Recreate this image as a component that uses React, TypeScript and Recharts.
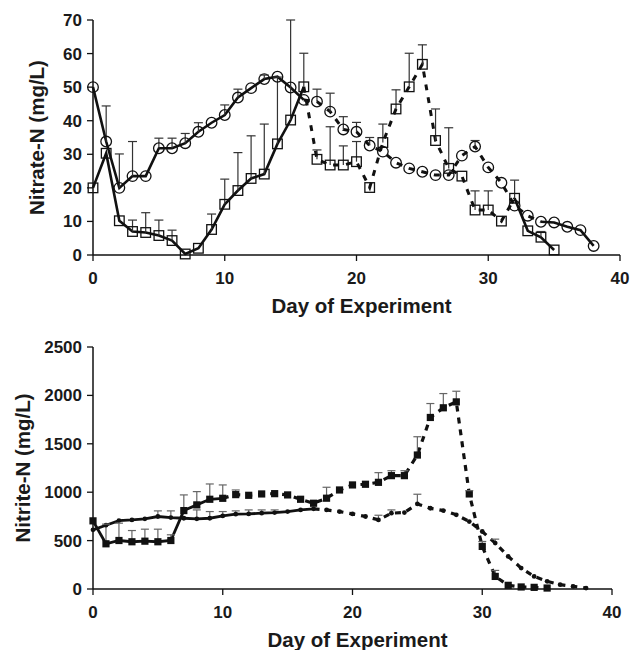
import React from 'react';
import { LineChart, Line, XAxis, YAxis, ErrorBar, Label } from 'recharts';

const FONT = '"Liberation Sans", Arial, Helvetica, sans-serif';
const INK = '#111';

const days = [0, 1, 2, 3, 4, 5, 6, 7, 8, 9, 10, 11, 12, 13, 14, 15, 16, 17, 18, 19, 20, 21, 22, 23, 24, 25, 26, 27, 28, 29, 30, 31, 32, 33, 34, 35, 36, 37, 38];
const xTicks = [0, 10, 20, 30, 40];

// Nitrate-N (mg/L)
const nitrateCircle = [50, 33.8, 20, 23.5, 23.5, 31.8, 31.8, 33.3, 36.7, 39.4, 41.7, 46.9, 49.7, 52.4, 53.1, 49.9, 46.2, 45.7, 42.7, 37.4, 36.7, 32.6, 30.8, 27.5, 25.8, 24.8, 23.8, 23.8, 29.6, 32.3, 26.1, 21.5, 14.7, 11.7, 9.9, 9.7, 8.4, 7.4, 2.7];
const nitrateSquare = [20, 30.3, 10.2, 7.0, 6.7, 5.8, 4.3, 0.3, 2.0, 7.6, 15.1, 19.2, 22.8, 24.1, 33.1, 40.2, 50.1, 28.5, 26.8, 26.8, 27.8, 20.1, 33.5, 43.5, 50.1, 56.8, 34.1, 25.8, 23.5, 13.4, 13.4, 10.1, 16.9, 7.2, 5.3, 1.5];
const nitrateCircleErr: [number, number][] = [[1, 10.6], [2, 10.1], [3, 10.3], [5, 3.0], [6, 3.0], [7, 2.9], [8, 2.7], [10, 3.0], [11, 2.5], [13, 1.2], [17, 3.7], [18, 5.5], [19, 3.8], [20, 2.8], [21, 2.4], [29, 1.8]];
const nitrateSquareErr: [number, number][] = [[3, 3.4], [4, 5.9], [5, 4.6], [6, 3.1], [9, 4.6], [10, 7.5], [11, 11.3], [12, 12.7], [13, 14.9], [14, 19.9], [15, 29.8], [16, 10.0], [17, 2.8], [18, 11.4], [19, 5.7], [20, 6.0], [22, 5.5], [23, 5.7], [24, 10.0], [25, 5.8], [26, 9.4], [27, 12.1], [29, 5.7], [30, 5.7], [32, 5.4], [34, 1.7]];
const nitrateYTicks = [0, 10, 20, 30, 40, 50, 60, 70];

// Nitrite-N (mg/L)
const nitriteSquare = [704, 467, 501, 488, 494, 488, 501, 810, 869, 927, 937, 975, 968, 982, 985, 972, 927, 886, 938, 1023, 1075, 1082, 1102, 1171, 1171, 1384, 1772, 1872, 1933, 982, 440, 130, 38, 21, 17, 10];
const nitriteDot = [611, 659, 707, 714, 725, 749, 738, 731, 725, 731, 755, 773, 776, 783, 790, 800, 817, 828, 817, 800, 776, 749, 714, 783, 790, 879, 834, 810, 766, 697, 594, 474, 337, 216, 130, 79, 45, 27, 10];
const nitriteSquareErr: [number, number][] = [[1, 203], [2, 179], [3, 116], [4, 124], [5, 130], [6, 59], [7, 162], [8, 137], [9, 158], [10, 138], [11, 48], [18, 113], [22, 100], [23, 51], [24, 51], [25, 189], [26, 144], [27, 147], [28, 110], [29, 34], [30, 51], [31, 62]];
const nitriteDotErr: [number, number][] = [[5, 58], [6, 69], [8, 92], [9, 69], [10, 45], [11, 34], [12, 41], [13, 34], [14, 27], [22, 48], [23, 34], [25, 100], [31, 41]];
const nitriteYTicks = [0, 500, 1000, 1500, 2000, 2500];

const valAt = (arr: number[], i: number) => (i < arr.length ? arr[i] : null);
const errAt = (list: [number, number][], d: number) => {
  const f = list.find((p) => p[0] === d);
  return f ? f[1] : null;
};
const inRange = (v: number | null, i: number, a: number, b: number) => (i >= a && i <= b ? v : null);

const nitrateData = days.map((d, i) => {
  const c = valAt(nitrateCircle, i);
  const s = valAt(nitrateSquare, i);
  const ce = errAt(nitrateCircleErr, d);
  const se = errAt(nitrateSquareErr, d);
  return {
    day: d,
    c,
    s,
    cErr: ce == null ? null : [0, ce],
    sErr: se == null ? null : [0, se],
    cCap: ce == null || c == null ? null : c + ce,
    sCap: se == null || s == null ? null : s + se,
    cSolidA: inRange(c, i, 0, 16),
    cDash: inRange(c, i, 16, 34),
    cSolidB: inRange(c, i, 34, 38),
    sSolidA: inRange(s, i, 0, 16),
    sDash: inRange(s, i, 16, 32),
    sSolidB: inRange(s, i, 32, 35),
  };
});

const nitriteData = days.map((d, i) => {
  const q = valAt(nitriteSquare, i);
  const t = valAt(nitriteDot, i);
  const qe = errAt(nitriteSquareErr, d);
  const te = errAt(nitriteDotErr, d);
  return {
    day: d,
    q,
    t,
    qErr: qe == null ? null : [0, qe],
    tErr: te == null ? null : [0, te],
    qCap: qe == null || q == null ? null : q + qe,
    tCap: te == null || t == null ? null : t + te,
    qSolid: inRange(q, i, 0, 10),
    qDash: inRange(q, i, 10, 35),
    tSolid: inRange(t, i, 0, 17),
    tDash: inRange(t, i, 17, 38),
  };
});

const bad = (p: any) => p.cy == null || p.cx == null || isNaN(p.cy) || p.value == null;

const HollowCircle = (p: any) =>
  bad(p) ? <g key={`hc${p.index}`} /> : (
    <circle key={`hc${p.index}`} cx={p.cx} cy={p.cy} r={5.3} fill="none" stroke={INK} strokeWidth={1.3} />
  );
const HollowSquare = (p: any) =>
  bad(p) ? <g key={`hs${p.index}`} /> : (
    <rect key={`hs${p.index}`} x={p.cx - 4.8} y={p.cy - 4.8} width={9.6} height={9.6} fill="none" stroke={INK} strokeWidth={1.3} />
  );
const FilledSquare = (p: any) =>
  bad(p) ? <g key={`fs${p.index}`} /> : (
    <rect key={`fs${p.index}`} x={p.cx - 3.6} y={p.cy - 3.6} width={7.2} height={7.2} fill={INK} stroke="none" />
  );
const SmallDot = (p: any) =>
  bad(p) ? <g key={`sd${p.index}`} /> : (
    <circle key={`sd${p.index}`} cx={p.cx} cy={p.cy} r={2.4} fill={INK} />
  );
const makeCap = (w: number, color: string, sw: number) => (p: any) =>
  bad(p) ? <g key={`cp${p.index}`} /> : (
    <line key={`cp${p.index}`} x1={p.cx - w / 2} x2={p.cx + w / 2} y1={p.cy} y2={p.cy} stroke={color} strokeWidth={sw} />
  );
const TopCap = makeCap(9, '#333', 1.2);
const BotCap = makeCap(8, '#666', 1.2);

const tickStyle = { fontSize: 17, fontWeight: 'bold', fill: '#1a1a1a', fontFamily: FONT } as any;
const labelStyle = { fontSize: 20.5, fontWeight: 'bold', fill: '#1a1a1a', fontFamily: FONT } as any;
const axisLine = { stroke: INK, strokeWidth: 1.5 };
const tickLine = { stroke: INK, strokeWidth: 1.3 };

export default function App() {
  return (
    <div style={{ position: 'absolute', left: 0, top: 0, width: 630, height: 650, background: '#fff' }}>
      <div style={{ position: 'absolute', left: 0, top: 0 }}>
        <LineChart width={630} height={320} data={nitrateData} margin={{ top: 20, right: 10, bottom: 0, left: 0 }}>
          <XAxis
            dataKey="day"
            type="number"
            domain={[0, 40]}
            ticks={xTicks}
            height={65}
            axisLine={axisLine}
            tickLine={tickLine}
            tickSize={6}
            tickMargin={11}
            tick={tickStyle}
          >
            <Label value="Day of Experiment" position="insideBottom" offset={7} dx={5} style={labelStyle} />
          </XAxis>
          <YAxis
            type="number"
            domain={[0, 70]}
            ticks={nitrateYTicks}
            width={93}
            axisLine={axisLine}
            tickLine={tickLine}
            tickSize={6}
            tickMargin={5}
            tick={tickStyle}
          >
            <Label value="Nitrate-N (mg/L)" angle={-90} position="insideLeft" offset={37} style={{ ...labelStyle, textAnchor: 'middle' }} />
          </YAxis>
          <Line dataKey="cSolidA" stroke={INK} strokeWidth={2.6} dot={false} activeDot={false} isAnimationActive={false} legendType="none" />
          <Line dataKey="cDash" stroke={INK} strokeWidth={3} strokeDasharray="6 7" dot={false} activeDot={false} isAnimationActive={false} legendType="none" />
          <Line dataKey="cSolidB" stroke={INK} strokeWidth={2.6} dot={false} activeDot={false} isAnimationActive={false} legendType="none" />
          <Line dataKey="sSolidA" stroke={INK} strokeWidth={2.6} dot={false} activeDot={false} isAnimationActive={false} legendType="none" />
          <Line dataKey="sDash" stroke={INK} strokeWidth={3} strokeDasharray="6 7" dot={false} activeDot={false} isAnimationActive={false} legendType="none" />
          <Line dataKey="sSolidB" stroke={INK} strokeWidth={2.6} dot={false} activeDot={false} isAnimationActive={false} legendType="none" />
          <Line dataKey="c" stroke="none" dot={HollowCircle} activeDot={false} isAnimationActive={false} legendType="none">
            <ErrorBar dataKey="cErr" direction="y" width={0} stroke="#333" strokeWidth={1.2} />
          </Line>
          <Line dataKey="s" stroke="none" dot={HollowSquare} activeDot={false} isAnimationActive={false} legendType="none">
            <ErrorBar dataKey="sErr" direction="y" width={0} stroke="#333" strokeWidth={1.2} />
          </Line>
          <Line dataKey="cCap" stroke="none" dot={TopCap} activeDot={false} isAnimationActive={false} legendType="none" />
          <Line dataKey="sCap" stroke="none" dot={TopCap} activeDot={false} isAnimationActive={false} legendType="none" />
        </LineChart>
      </div>
      <div style={{ position: 'absolute', left: 0, top: 330 }}>
        <LineChart width={630} height={320} data={nitriteData} margin={{ top: 17, right: 18, bottom: 0, left: 0 }}>
          <XAxis
            dataKey="day"
            type="number"
            domain={[0, 40]}
            ticks={xTicks}
            height={61}
            axisLine={axisLine}
            tickLine={tickLine}
            tickSize={6}
            tickMargin={11}
            tick={tickStyle}
          >
            <Label value="Day of Experiment" position="insideBottom" offset={3} dx={5} style={labelStyle} />
          </XAxis>
          <YAxis
            type="number"
            domain={[0, 2500]}
            ticks={nitriteYTicks}
            width={93}
            axisLine={axisLine}
            tickLine={tickLine}
            tickSize={6}
            tickMargin={5}
            tick={tickStyle}
          >
            <Label value="Nitrite-N (mg/L)" angle={-90} position="insideLeft" offset={23} style={{ ...labelStyle, textAnchor: 'middle' }} />
          </YAxis>
          <Line dataKey="tSolid" stroke={INK} strokeWidth={2.8} dot={false} activeDot={false} isAnimationActive={false} legendType="none" />
          <Line dataKey="tDash" stroke={INK} strokeWidth={3.2} strokeDasharray="6 6" dot={false} activeDot={false} isAnimationActive={false} legendType="none" />
          <Line dataKey="qSolid" stroke={INK} strokeWidth={2.8} dot={false} activeDot={false} isAnimationActive={false} legendType="none" />
          <Line dataKey="qDash" stroke={INK} strokeWidth={3.2} strokeDasharray="6 6" dot={false} activeDot={false} isAnimationActive={false} legendType="none" />
          <Line dataKey="t" stroke="none" dot={SmallDot} activeDot={false} isAnimationActive={false} legendType="none">
            <ErrorBar dataKey="tErr" direction="y" width={0} stroke="#666" strokeWidth={1.2} />
          </Line>
          <Line dataKey="q" stroke="none" dot={FilledSquare} activeDot={false} isAnimationActive={false} legendType="none">
            <ErrorBar dataKey="qErr" direction="y" width={0} stroke="#666" strokeWidth={1.2} />
          </Line>
          <Line dataKey="tCap" stroke="none" dot={BotCap} activeDot={false} isAnimationActive={false} legendType="none" />
          <Line dataKey="qCap" stroke="none" dot={BotCap} activeDot={false} isAnimationActive={false} legendType="none" />
        </LineChart>
      </div>
    </div>
  );
}
